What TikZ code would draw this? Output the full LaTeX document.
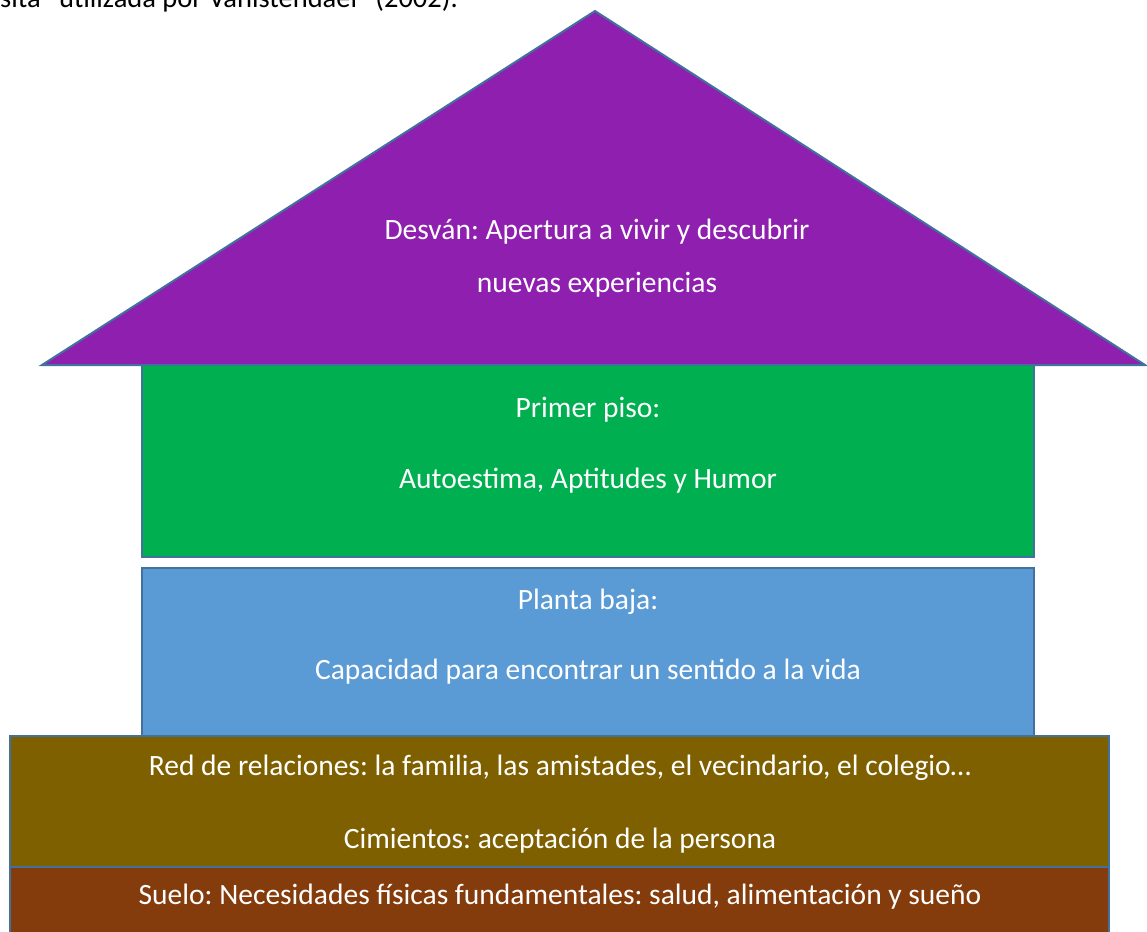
\documentclass[tikz,border=0pt]{standalone}
\usepackage{fontspec}
\setmainfont{Carlito}
\frenchspacing
\definecolor{edge}{HTML}{41719C}
\definecolor{roofc}{HTML}{8E1FAF}
\definecolor{greenc}{HTML}{00B050}
\definecolor{bluec}{HTML}{5B9BD5}
\definecolor{olivec}{HTML}{7F6000}
\definecolor{brownc}{HTML}{843C0C}
\tikzset{
  part/.style={draw=edge, line width=2pt},
  lbl/.style={text=white, font=\fontsize{29.5}{34}\selectfont, inner sep=0pt},
}
\begin{document}
\begin{tikzpicture}[x=1pt,y=-1pt]
\useasboundingbox (0,0) rectangle (1147,931);
\clip (0,0) rectangle (1147,931);
\fill[white] (0,0) rectangle (1147,931);
% caption fragment
\node[anchor=base west, inner sep=0pt, font=\fontsize{28.5}{34}\selectfont] (cap) at (0,8) {sita” utilizada por Vanistendael” (2002).};
% roof
\filldraw[part, fill=roofc, line join=miter] (42,365) -- (595,11) -- (1145,365) -- cycle;
% floors
\filldraw[part, fill=greenc] (142,365) rectangle (1034,557);
\filldraw[part, fill=bluec] (142,568) rectangle (1034,736);
\filldraw[part, fill=olivec] (10,736) rectangle (1109,867);
\filldraw[part, fill=brownc] (10,867) rectangle (1109,945);
% labels
\node[lbl] (d1) at (597,232) {Desván: Apertura a vivir y descubrir};
\node[lbl] (d2) at (597,285) {nuevas experiencias};
\node[lbl] (p1) at (588,410) {Primer piso:};
\node[lbl] (p2) at (588,481) {Autoestima, Aptitudes y Humor};
\node[lbl] (b1) at (588,602) {Planta baja:};
\node[lbl] (b2) at (588,672) {Capacidad para encontrar un sentido a la vida};
\node[lbl] (r1) at (560,768) {Red de relaciones: la familia, las amistades, el vecindario, el colegio…};
\node[lbl] (r2) at (560,841) {Cimientos: aceptación de la persona};
\node[lbl] (s1) at (560,897) {Suelo: Necesidades físicas fundamentales: salud, alimentación y sueño};
\end{tikzpicture}
\end{document}
